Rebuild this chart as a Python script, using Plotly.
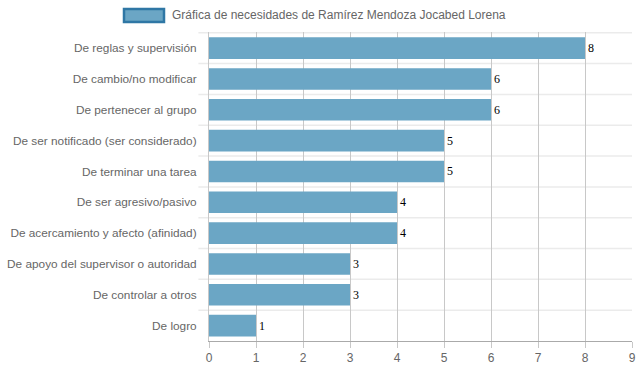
import plotly.graph_objects as go

categories = [
    "De reglas y supervisión",
    "De cambio/no modificar",
    "De pertenecer al grupo",
    "De ser notificado (ser considerado)",
    "De terminar una tarea",
    "De ser agresivo/pasivo",
    "De acercamiento y afecto (afinidad)",
    "De apoyo del supervisor o autoridad",
    "De controlar a otros",
    "De logro",
]
values = [8, 6, 6, 5, 5, 4, 4, 3, 3, 1]
series_name = "Gráfica de necesidades de Ramírez Mendoza Jocabed Lorena"
x_ticks = list(range(0, 10))

W, H = 639, 372
L, R, T, B = 209, 7, 32, 31
PW, PH = W - L - R, H - T - B

def px_x(p):
    return (p - L) / PW

def px_y(p):
    return (H - B - p) / PH

fig = go.Figure()
fig.add_trace(go.Bar(
    y=categories, x=values, orientation="h",
    name=series_name,
    marker=dict(color="#6ba6c5", line=dict(color="#6ba6c5", width=0)),
    width=0.7,
    text=values, texttemplate="%{x}", textposition="outside",
    textfont=dict(family="Liberation Serif", size=12, color="#000"),
    cliponaxis=False,
    showlegend=False,
))

shapes = []
for i in range(len(categories)):
    shapes.append(dict(type="line", xref="paper", yref="y",
                       x0=-0.025, x1=1, y0=i - 0.5, y1=i - 0.5,
                       line=dict(color="#ebebeb", width=1.5), layer="below"))
# legend box
shapes.append(dict(type="rect", xref="paper", yref="paper",
                   x0=px_x(124), x1=px_x(164), y0=px_y(22), y1=px_y(9),
                   fillcolor="#6ba6c5", line=dict(color="#2f77a5", width=2.5)))

fig.update_layout(
    width=W, height=H,
    margin=dict(l=L, r=R, t=T, b=B, autoexpand=False),
    paper_bgcolor="white", plot_bgcolor="white",
    font=dict(family="Liberation Sans, Arial", size=12, color="#666"),
    bargap=0.3,
    shapes=shapes,
    annotations=[dict(text=series_name, xref="paper", yref="paper",
                      x=px_x(170), y=px_y(15), xanchor="left", yanchor="middle",
                      showarrow=False, font=dict(size=12, color="#666"))],
    xaxis=dict(range=[0, 9], tickvals=x_ticks, showgrid=True, gridcolor="#c8c8c8",
               gridwidth=1, zeroline=False, showline=True, linecolor="#aaa",
               ticks="outside", ticklen=6, tickcolor="#c8c8c8", automargin=False,
               tickfont=dict(size=12, color="#666"), fixedrange=True),
    yaxis=dict(autorange="reversed", type="category", showgrid=False, automargin=False,
               ticks="", ticklabelstandoff=9, tickfont=dict(size=11.8, color="#666"),
               zeroline=False, showline=True, linecolor="#c8c8c8"),
)
fig.write_html("out.html", config={"displayModeBar": False},
               post_script="document.body.style.margin='0';document.body.style.overflow='hidden';")
